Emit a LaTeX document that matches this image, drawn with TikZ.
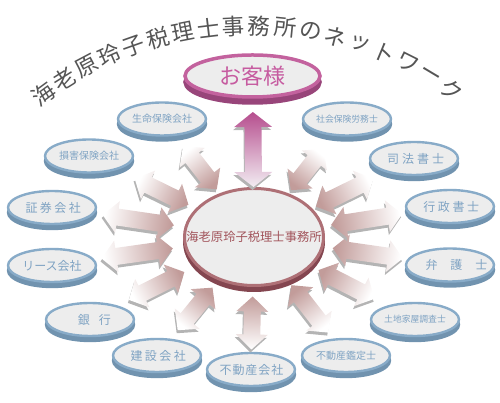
\documentclass[tikz,border=0pt]{standalone}
\usepackage{fontspec}
\newfontfamily\jp{Noto Sans CJK JP}
\usetikzlibrary{shapes.geometric, calc, shadows}

\definecolor{ringblue}{HTML}{88ABC8}
\definecolor{rimblue}{HTML}{7193AF}
\definecolor{discfill}{HTML}{EDEDED}
\definecolor{labelblue}{HTML}{7FA3C3}
\definecolor{hubring}{HTML}{AE7076}
\definecolor{hubrim}{HTML}{844650}
\definecolor{hubtext}{HTML}{A2555C}
\definecolor{custring}{HTML}{C3629E}
\definecolor{custrim}{HTML}{98457A}
\definecolor{custtext}{HTML}{C65BA0}
\definecolor{custarrow}{HTML}{B64E8E}
\definecolor{custlight}{HTML}{F2ECF2}
\definecolor{arrowpink}{HTML}{C29C9A}
\definecolor{arrowside}{HTML}{B4B4B4}
\definecolor{titlegray}{HTML}{555555}

% letter-spaced label text
\newcommand\spaced[2]{{\addfontfeature{LetterSpace=#1}#2}\kern-#1\dimexpr0.01em\relax}

% double-headed block arrow between two tips
\newcommand\twoway[5]{%
  \path let \p1=($(#2)-(#1)$) in \pgfextra{\pgfmathparse{atan2(\y1,\x1)-90}\xdef\shang{\pgfmathresult}};
  \coordinate (h1) at ($(#1)!15pt!(#2)$);
  \coordinate (h2) at ($(#2)!15pt!(#1)$);
  \shade[arrowbody, bottom color=#4, top color=#5, shading angle=\shang]
    (#1) -- ($(h1)!#3pt!90:(#2)$) -- ($(h1)!8.5pt!90:(#2)$) -- ($(h2)!8.5pt!-90:(#1)$)
    -- ($(h2)!#3pt!-90:(#1)$) -- (#2) -- ($(h2)!#3pt!90:(#1)$) -- ($(h2)!8.5pt!90:(#1)$)
    -- ($(h1)!8.5pt!-90:(#2)$) -- ($(h1)!#3pt!-90:(#2)$) -- cycle;
}

\tikzset{
  disc/.style={ellipse, inner xsep=-40pt, inner ysep=0pt, fill=discfill},
  partner/.style={disc, draw=ringblue, line width=2.4pt, minimum width=88pt,
    minimum height=33pt, text=labelblue, font=\jp\fontsize{10}{12}\selectfont,
    general shadow={fill=rimblue, draw=rimblue, line width=2.4pt, shadow yshift=-5pt}},
  wide/.style={font=\jp\fontsize{12}{14}\selectfont},
  small/.style={font=\jp\fontsize{8.8}{10}\selectfont},
  hubdisc/.style={disc, draw=hubring, line width=3pt, minimum width=139pt,
    minimum height=97pt, text=hubtext, font=\jp\fontsize{12.3}{14}\selectfont,
    general shadow={fill=hubrim, draw=hubrim, line width=3pt, shadow yshift=-5pt}},
  custdisc/.style={disc, draw=custring, line width=3.5pt, minimum width=135pt,
    minimum height=42pt, text=custtext, font=\jp\fontsize{22}{24}\selectfont,
    general shadow={fill=custrim, draw=custrim, line width=3.5pt, shadow yshift=-6pt}},
  arrowbody/.style={general shadow={fill=arrowside, shadow xshift=-1pt, shadow yshift=-3pt}},
  titlechar/.style={text=titlegray, font=\jp\fontsize{22.5}{22.5}\selectfont, inner sep=0pt}
}

\begin{document}
\begin{tikzpicture}[x=1pt, y=1pt]
  \useasboundingbox (0,0) rectangle (500,403);

  % Title along an arc
  \foreach \c [count=\i from 0, evaluate=\i as \a using 36.3-4.2*\i] in
      {海,老,原,玲,子,税,理,士,事,務,所,の,ネ,ッ,ト,ワ,ー,ク}
    \node[titlechar, rotate=\a] (t\i) at ({250.3-349.8*sin(\a)}, {27.2+349.8*cos(\a)}) {\c};

  % Office and customers
  \node[hubdisc] (hub) at (254,166) {海老原玲子税理士事務所};
  \node[custdisc] (cust) at (252.5,327) {お客様};

  % Partners
  \node[partner] (life) at (162,284) {生命保険会社};
  \node[partner] (sonpo) at (89,247) {損害保険会社};
  \node[partner, wide] (stock) at (52,195.5) {\spaced{20}{証券会社}};
  \node[partner, wide] (lease) at (52,137.5) {リース会社};
  \node[partner, wide] (bank) at (90,83.5) {\spaced{75}{銀行}};
  \node[partner, wide] (build) at (157,47.5) {\spaced{20}{建設会社}};
  \node[partner, wide] (estate) at (251,33.5) {\spaced{8}{不動産会社}};
  \node[partner] (apprais) at (346,47.5) {不動産鑑定士};
  \node[partner, small] (survey) at (415,83.5) {土地家屋調査士};
  \node[partner, wide] (lawyer) at (450,138) {\spaced{108}{弁護士}};
  \node[partner, wide] (gyosei) at (450,196.5) {\spaced{21}{行政書士}};
  \node[partner, wide] (shiho) at (414,244.5) {\spaced{25}{司法書士}};
  \node[partner, small] (sharo) at (347,284) {社会保険労務士};

  % Arrows: partner / mid distance from hub / length
  \foreach \n/\d/\len in {life/88/55, sonpo/103/60, stock/117/72, lease/118/72,
      bank/109/62, build/93/55, estate/86/53, apprais/91/60, survey/104/63,
      lawyer/115/71, gyosei/114/72, shiho/101/64, sharo/86/53} {
    \pgfmathsetmacro\da{\d-\len/2}
    \pgfmathsetmacro\db{\d+\len/2}
    \coordinate (ta) at ($(hub)!\da pt!(\n)$);
    \coordinate (tb) at ($(hub)!\db pt!(\n)$);
    \twoway{ta}{tb}{16}{arrowpink}{white}
  }

  % Arrow to the customers
  \coordinate (ka) at ($(hub)!50pt!(cust)$);
  \coordinate (kb) at ($(hub)!125pt!(cust)$);
  \twoway{ka}{kb}{19}{custlight}{custarrow}
\end{tikzpicture}
\end{document}
